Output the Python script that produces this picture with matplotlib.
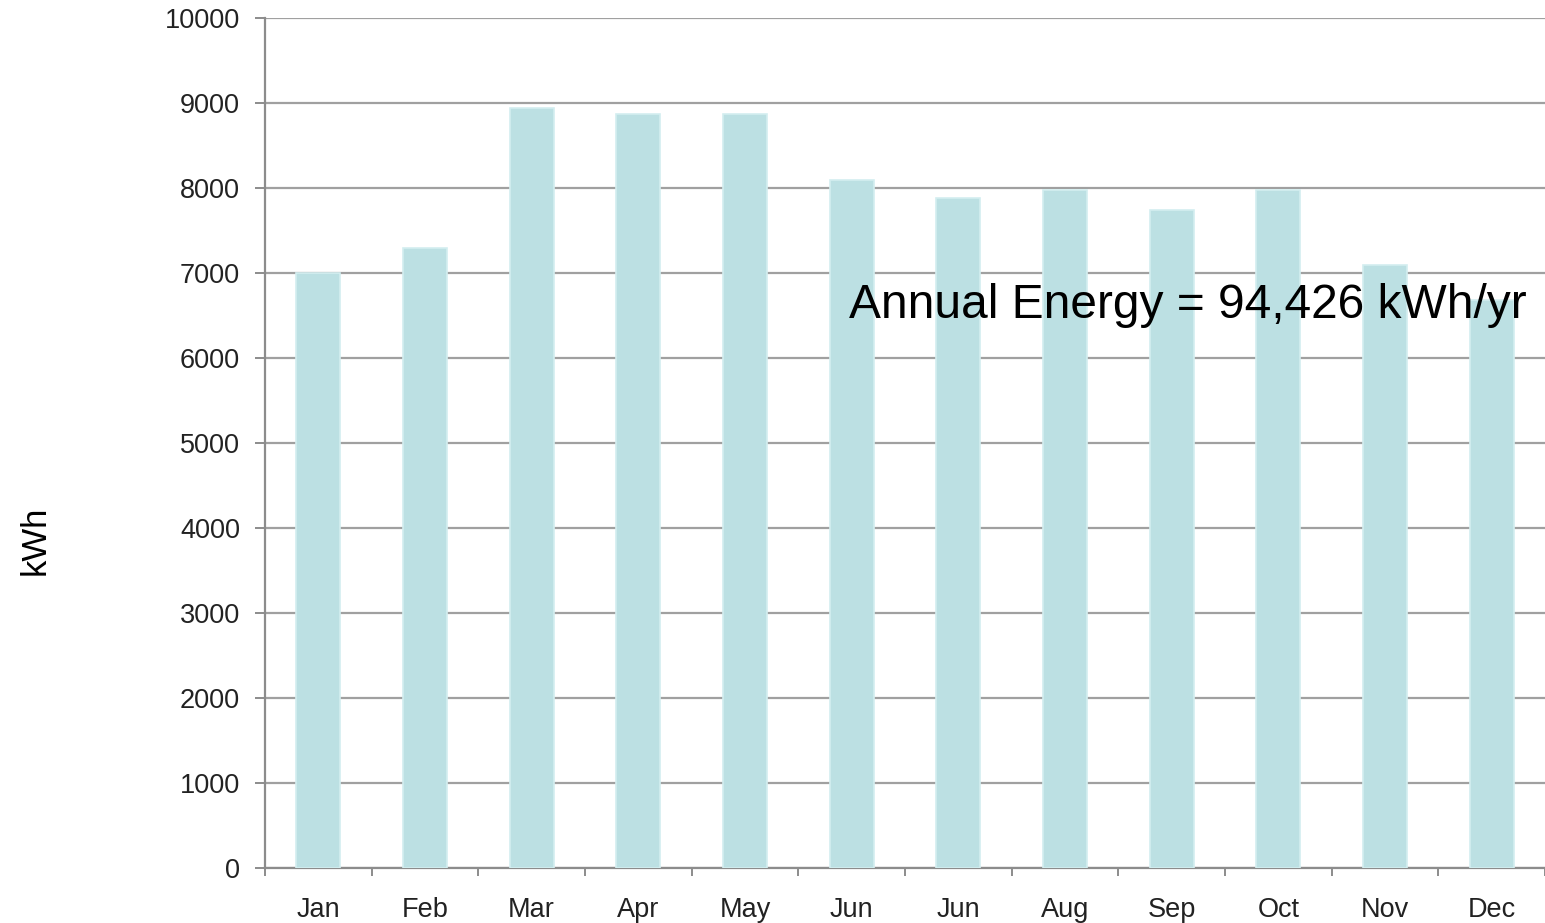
import matplotlib

matplotlib.use("Agg")
import matplotlib.pyplot as plt
import numpy as np

MONTHS = ["Jan", "Feb", "Mar", "Apr", "May", "Jun",
          "Jun", "Aug", "Sep", "Oct", "Nov", "Dec"]
ENERGY_KWH = [7000, 7294, 8941, 8870, 8870, 8094,
              7882, 7976, 7741, 7976, 7094, 6688]
Y_TICKS = list(range(0, 10001, 1000))
ANNOTATION = "Annual Energy = 94,426 kWh/yr"

plt.rcParams["font.family"] = ["Liberation Sans", "DejaVu Sans"]

fig = plt.figure(figsize=(15.45, 9.23), dpi=100)
ax = fig.add_axes([265 / 1545, 1 - 868 / 923, 1 - 265 / 1545, (868 - 18) / 923])

x = np.arange(len(MONTHS))
ax.bar(x, ENERGY_KWH, width=0.41, color="#bce0e3", edgecolor="#d3eef0",
       linewidth=1.2, zorder=3)

ax.set_xlim(-0.5, len(MONTHS) - 0.5)
ax.set_ylim(0, 10000)
ax.set_yticks(Y_TICKS)
ax.set_xticks(x)
ax.set_xticklabels(MONTHS)
ax.set_xticks(np.arange(-0.5, len(MONTHS), 1.0), minor=True)

ax.grid(axis="y", color="#a0a0a0", linewidth=1.6, zorder=1)
for side in ("top", "right"):
    ax.spines[side].set_visible(False)
ax.spines["left"].set_color("#8c8c8c")
ax.spines["left"].set_linewidth(1.6)
ax.spines["bottom"].set_color("#8c8c8c")
ax.spines["bottom"].set_linewidth(1.6)

ax.tick_params(axis="y", length=7, width=1.4, color="#8c8c8c", pad=11,
               labelsize=19.5, labelcolor="#222222")
ax.tick_params(axis="x", which="major", length=0, pad=21,
               labelsize=19.5, labelcolor="#222222")
ax.tick_params(axis="x", which="minor", length=6, width=1.4, color="#8c8c8c")

ax.text(8.15, 6620, ANNOTATION, fontsize=34.5, color="black",
        ha="center", va="center", zorder=4)

fig.text(35 / 1545, 1 - 540 / 923, "kWh", rotation=90, fontsize=25,
         ha="center", va="center", color="black")

fig.savefig("out.png", dpi=100)
